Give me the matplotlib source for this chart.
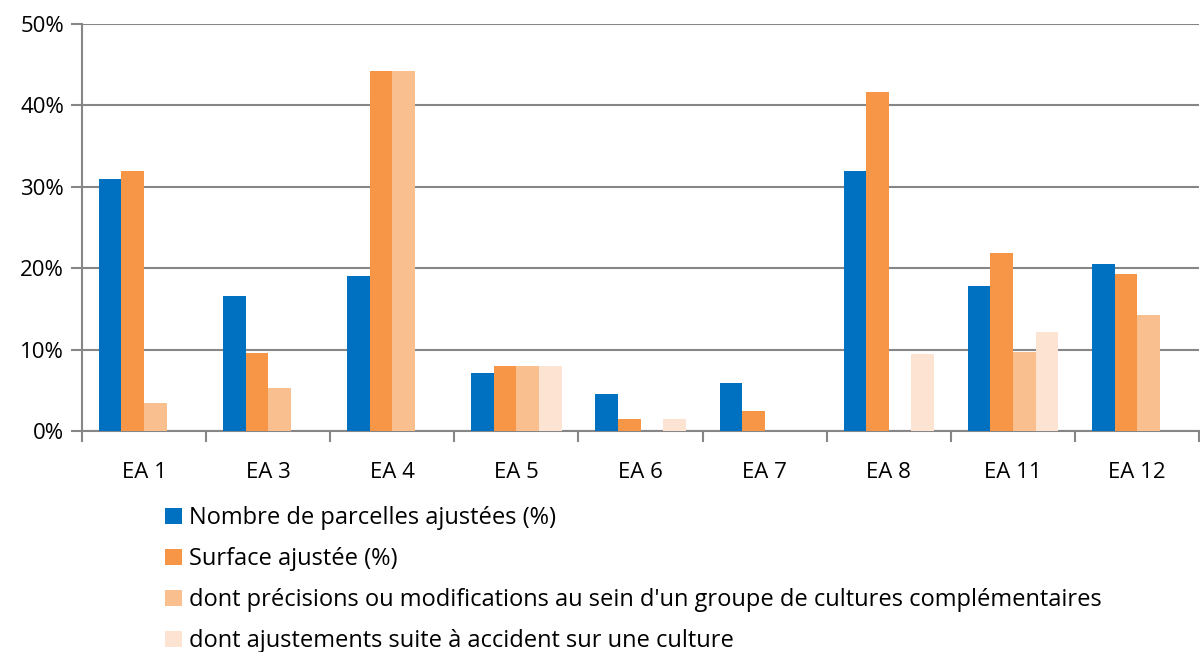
import numpy as np
import matplotlib
matplotlib.use("Agg")
import matplotlib.pyplot as plt
from matplotlib.patches import Patch
from matplotlib.ticker import FuncFormatter

plt.rcParams['font.family'] = ['Open Sans', 'DejaVu Sans']

## DONNEES ##
categories = ['EA 1', 'EA 3', 'EA 4', 'EA 5', 'EA 6', 'EA 7', 'EA 8', 'EA 11', 'EA 12']
nb_parcelles = [31.0, 16.6, 19.0, 7.1, 4.5, 5.9, 32.0, 17.8, 20.5]
surface = [32.0, 9.6, 44.2, 8.0, 1.5, 2.5, 41.7, 21.9, 19.3]
precisions = [3.4, 5.3, 44.2, 8.0, 0, 0, 0, 9.7, 14.2]
accidents = [0, 0, 0, 8.0, 1.5, 0, 9.5, 12.2, 0]

series = [
    ('Nombre de parcelles ajustées (%)', nb_parcelles, '#0070C0'),
    ('Surface ajustée (%)', surface, '#F79646'),
    ("dont précisions ou modifications au sein d'un groupe de cultures complémentaires", precisions, '#FABF8F'),
    ('dont ajustements suite à accident sur une culture', accidents, '#FDE4D2'),
]

fig = plt.figure(figsize=(12, 6.52), dpi=100)
ax = fig.add_axes([0.0683, 0.339, 0.931, 0.624])

x = np.arange(len(categories))
largeur = 0.182
for i, (nom, valeurs, couleur) in enumerate(series):
    ax.bar(x + (i - 1.5) * largeur, valeurs, largeur, color=couleur, label=nom, zorder=3)

ax.set_xlim(-0.5, len(categories) - 0.5)
ax.set_ylim(0, 50)
ax.set_yticks(np.arange(0, 51, 10))
ax.yaxis.set_major_formatter(FuncFormatter(lambda v, p: '%d%%' % v))
ax.yaxis.grid(True, color='#868686', linewidth=1.5, zorder=0)

ax.set_xticks(x)
ax.set_xticklabels(categories)
ax.set_xticks(np.arange(-0.5, len(categories), 1), minor=True)
ax.tick_params(axis='x', which='major', length=0, pad=22, labelsize=16)
ax.tick_params(axis='x', which='minor', length=8, width=1.5, color='#868686', direction='out')
ax.tick_params(axis='y', length=8, width=1.5, color='#868686', labelsize=16, pad=5)

for s in ['top', 'right']:
    ax.spines[s].set_visible(False)
for s in ['left', 'bottom']:
    ax.spines[s].set_color('#868686')
    ax.spines[s].set_linewidth(1.5)

handles = [Patch(facecolor=c, label=n) for n, v, c in series]
fig.legend(handles=handles, loc='upper left', bbox_to_anchor=(0.130, 0.238),
           frameon=False, fontsize=17, handlelength=0.7, handleheight=0.7,
           handletextpad=0.3, labelspacing=0.72, borderaxespad=0)

fig.savefig('out.png', dpi=100)
